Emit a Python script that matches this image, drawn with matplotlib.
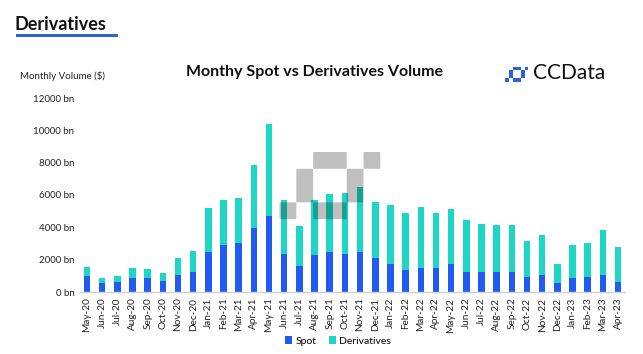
import matplotlib
matplotlib.use("Agg")
import matplotlib.pyplot as plt
from matplotlib.patches import FancyBboxPatch, Rectangle
import numpy as np

months = ["May-20","Jun-20","Jul-20","Aug-20","Sep-20","Oct-20","Nov-20","Dec-20",
          "Jan-21","Feb-21","Mar-21","Apr-21","May-21","Jun-21","Jul-21","Aug-21",
          "Sep-21","Oct-21","Nov-21","Dec-21","Jan-22","Feb-22","Mar-22","Apr-22",
          "May-22","Jun-22","Jul-22","Aug-22","Sep-22","Oct-22","Nov-22","Dec-22",
          "Jan-23","Feb-23","Mar-23","Apr-23"]
spot = [1010, 536, 597, 845, 845, 680, 1030, 1257,
        2493, 2925, 3008, 3935, 4676, 2369, 1627, 2307,
        2493, 2328, 2493, 2122, 1730, 1380, 1504, 1504,
        1730, 1257, 1257, 1257, 1215, 906, 1030, 536,
        845, 948, 1030, 597]
total = [1545, 886, 989, 1504, 1401, 1195, 2122, 2554,
         5212, 5706, 5830, 7849, 10382, 5686, 4079, 5706,
         6056, 6139, 6489, 5583, 5377, 4903, 5274, 4903,
         5150, 4450, 4202, 4161, 4161, 3172, 3502, 1710,
         2905, 3049, 3852, 2760]
derivatives = [t - s for t, s in zip(total, spot)]
yticks = [0, 2000, 4000, 6000, 8000, 10000, 12000]

SPOT_C = "#1F5BF2"
DER_C = "#1DD6C6"

W, H = 643, 354
fig = plt.figure(figsize=(W/100, H/100), dpi=100)
plt.rcParams['font.family'] = ['Lato', 'DejaVu Sans']

def fx(px): return px / W
def fy(py): return 1 - py / H

ax = fig.add_axes([fx(80), fy(292), (625-80)/W, (292-98)/H])
x = np.arange(len(months))
bs = ax.bar(x, spot, width=0.43, color=SPOT_C, label="Spot", zorder=2)
bd = ax.bar(x, derivatives, width=0.43, bottom=spot, color=DER_C, label="Derivatives", zorder=2)
ax.set_xlim(-0.46, len(months) - 0.54)
ax.set_ylim(0, 12000)
ax.set_yticks(yticks)
ax.set_yticklabels([f"{v} bn" for v in yticks], fontsize=7, color="#222222")
ax.set_xticks(x)
ax.set_xticklabels(months, rotation=90, fontsize=7.2, color="#222222")
ax.tick_params(length=0, pad=4)
for s in ["top", "right", "left"]:
    ax.spines[s].set_visible(False)
ax.spines["bottom"].set_color("#D0D0D0")
ax.spines["bottom"].set_linewidth(1)

# Legend
fig.legend(handles=[bs, bd], labels=["Spot", "Derivatives"], loc="center",
           bbox_to_anchor=(fx(338), fy(341)), ncol=2, frameon=False,
           fontsize=7.5, handlelength=0.7, handleheight=0.7,
           handletextpad=0.3, columnspacing=1.2)

# Header
fig.text(fx(15), fy(24), "Derivatives", fontsize=13, fontweight="bold",
         color="#111111", va="center", ha="left")
fig.add_artist(Rectangle((fx(16), fy(37)), (118-16)/W, 3/H, transform=fig.transFigure,
                         color="#2F60E0", lw=0))
fig.text(fx(20), fy(76), "Monthly Volume ($)", fontsize=7, color="#222222",
         va="center", ha="left")
fig.text(fx(314), fy(72), "Monthy Spot vs Derivatives Volume", fontsize=11.5,
         fontweight="bold", color="#111111", va="center", ha="center")

# overlay axes in pixel coordinates
ov = fig.add_axes([0, 0, 1, 1], zorder=10)
ov.set_xlim(0, W)
ov.set_ylim(H, 0)
ov.axis("off")
ov.patch.set_alpha(0)

# blocks: (col, row, ncols, nrows)
blocks = [(2, 0, 2, 1), (5, 0, 1, 1), (1, 1, 1, 2), (4, 1, 1, 2), (0, 3, 1, 1), (2, 3, 2, 1)]

def pixel_shape(x0, y0, s, color, alpha, rad):
    for (c, r, nc, nr) in blocks:
        p = FancyBboxPatch((x0 + c*s + rad, y0 + r*s + rad),
                           nc*s - 2*rad, nr*s - 2*rad,
                           boxstyle=f"round,pad={rad}" if rad > 0 else "square,pad=0",
                           color=color, alpha=alpha, lw=0)
        ov.add_patch(p)

pixel_shape(279.5, 152, 16.8, "#000000", 0.25, 1.0)
pixel_shape(505, 66.5, 3.9, "#2F60E0", 1.0, 0.0)
ov.text(533, 73, "CCData", fontsize=15, color="#111111", va="center", ha="left")

fig.savefig("out.png", dpi=100)
